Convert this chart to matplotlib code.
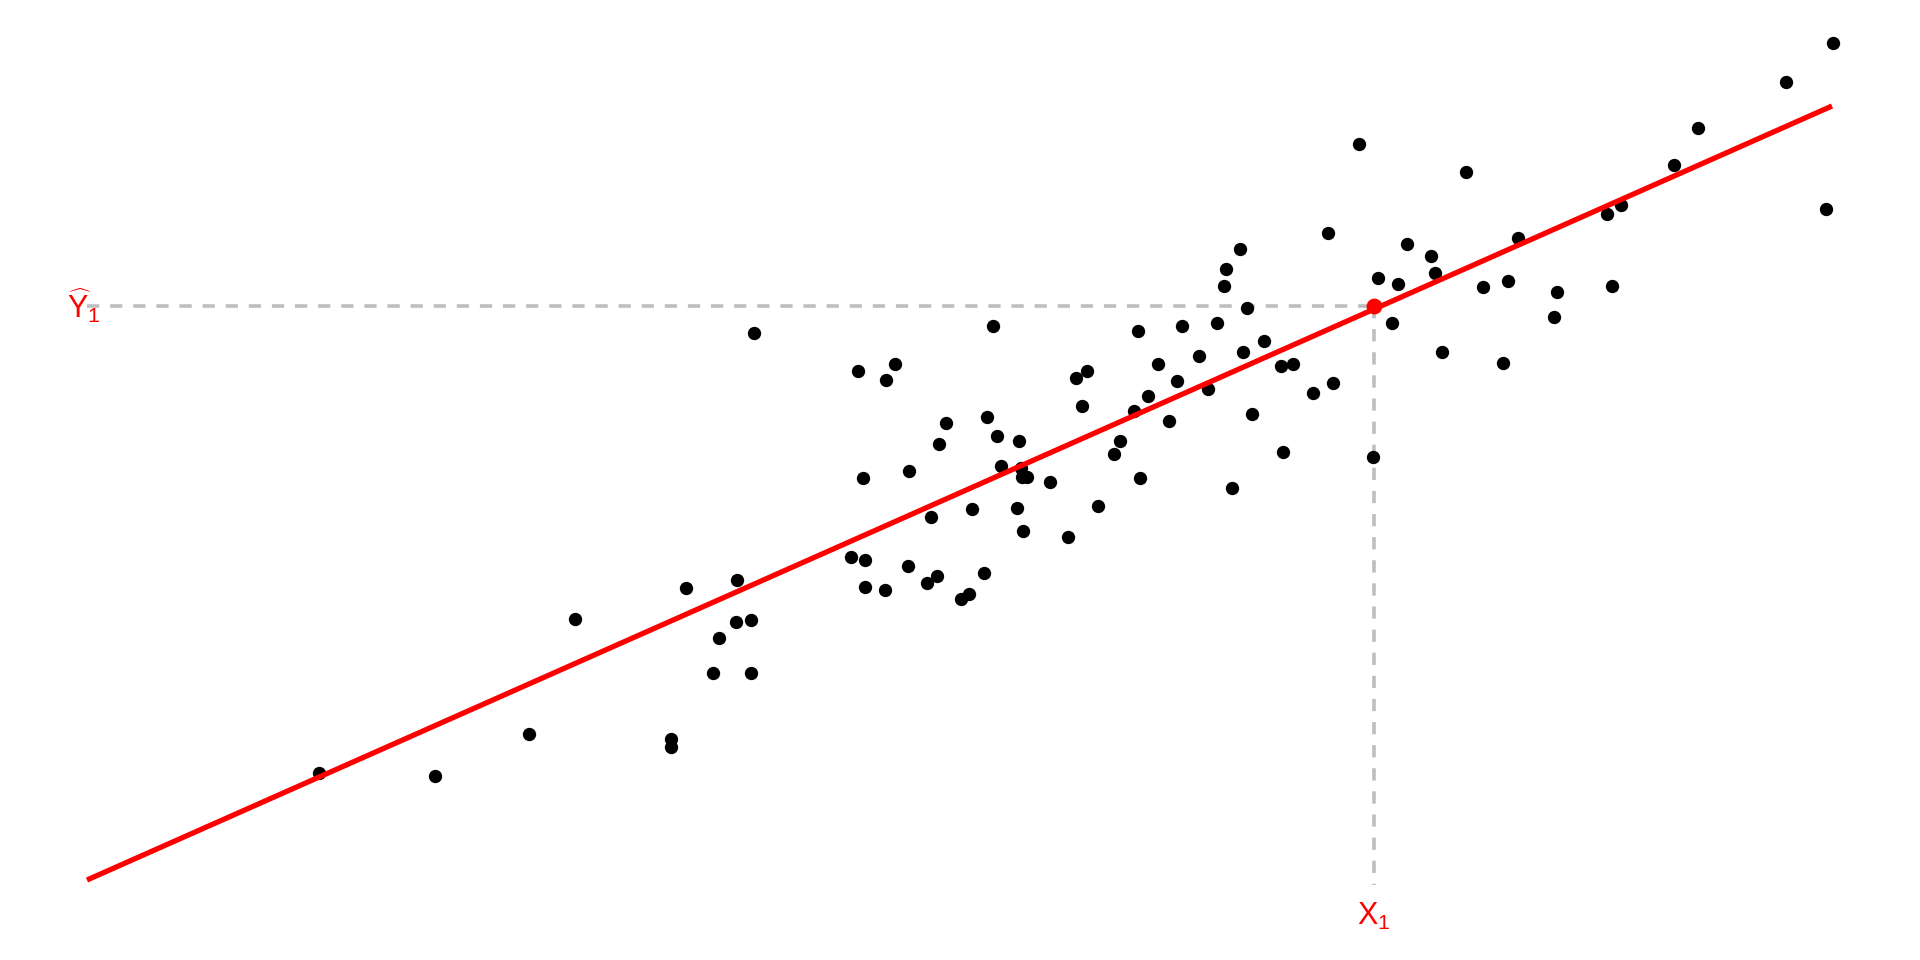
import matplotlib
matplotlib.use("Agg")
import matplotlib.pyplot as plt

# 散点数据 (x, y)，y 向上
pts_x = [319, 435, 529, 575, 671, 671, 686, 737, 719, 736, 751, 713, 751, 754,
         858, 895, 886, 993, 863, 909, 946, 939, 987, 997, 1019, 1001, 1021, 1022,
         1027, 1050, 1076, 1087, 1082, 1138, 1182, 1217, 1158, 1199, 1177, 1148,
         1134, 1208, 1169, 1120, 1114, 1140, 1098, 931, 972, 1017, 1023, 1068,
         851, 865, 908, 865, 885, 927, 937, 984, 969, 961,
         1359, 1466, 1328, 1240, 1226, 1224, 1247, 1407, 1431, 1435, 1378, 1398,
         1392, 1442, 1503, 1483, 1508, 1518, 1557, 1554, 1607, 1612, 1373, 1243,
         1264, 1281, 1293, 1333, 1313, 1252, 1283, 1232,
         1833, 1786, 1698, 1674, 1621, 1826]
pts_py = [773, 776, 734, 619, 739, 747, 588, 580, 638, 622, 620, 673, 673, 333,
          371, 364, 380, 326, 478, 471, 423, 444, 417, 436, 441, 466, 468, 477,
          477, 482, 378, 371, 406, 331, 326, 323, 364, 356, 381, 396,
          411, 389, 421, 441, 454, 478, 506, 517, 509, 508, 531, 537,
          557, 560, 566, 587, 590, 583, 576, 573, 594, 599,
          144, 172, 233, 249, 269, 286, 308, 244, 256, 273, 278, 284,
          323, 352, 363, 287, 281, 238, 292, 317, 214, 286, 457, 352,
          341, 366, 364, 383, 393, 414, 452, 488,
          43, 82, 128, 165, 205, 209]
pts_y = [960 - v for v in pts_py]

# 回归直线端点
line_x = [87, 1832]
line_y = [960 - 880, 960 - 106]

# 预测点 (X1, Y1hat)
x1 = 1374
y1_hat = 960 - 306
dash_left = 87
dash_bottom = 960 - 885

plt.rcParams['mathtext.fontset'] = 'custom'
plt.rcParams['mathtext.rm'] = 'Liberation Sans'
plt.rcParams['mathtext.it'] = 'Liberation Sans'

fig = plt.figure(figsize=(19.2, 9.6), dpi=100)
ax = fig.add_axes([0, 0, 1, 1])
ax.set_xlim(0, 1920)
ax.set_ylim(0, 960)
ax.axis("off")

grey = "#BEBEBE"
ax.plot([dash_left, x1], [y1_hat, y1_hat], color=grey, lw=2.6,
        dashes=(3.4, 3.0), zorder=1)
ax.plot([x1, x1], [y1_hat, dash_bottom], color=grey, lw=2.6,
        dashes=(3.4, 3.0), zorder=1)

ax.scatter(pts_x, pts_y, s=92, color="black", zorder=2, linewidths=0)
ax.plot(line_x, line_y, color="red", lw=3.8, solid_capstyle="butt", zorder=3)
ax.scatter([x1], [y1_hat], s=130, color="red", zorder=4, linewidths=0)

ax.text(84, 960 - 306, r'$\widehat{\mathrm{Y}}_1$', color="red", fontsize=22,
        ha="center", va="center")
ax.text(x1, 960 - 916, r'$\mathrm{X}_1$', color="red", fontsize=22,
        ha="center", va="center")

fig.savefig("out.png", dpi=100, facecolor="white")
